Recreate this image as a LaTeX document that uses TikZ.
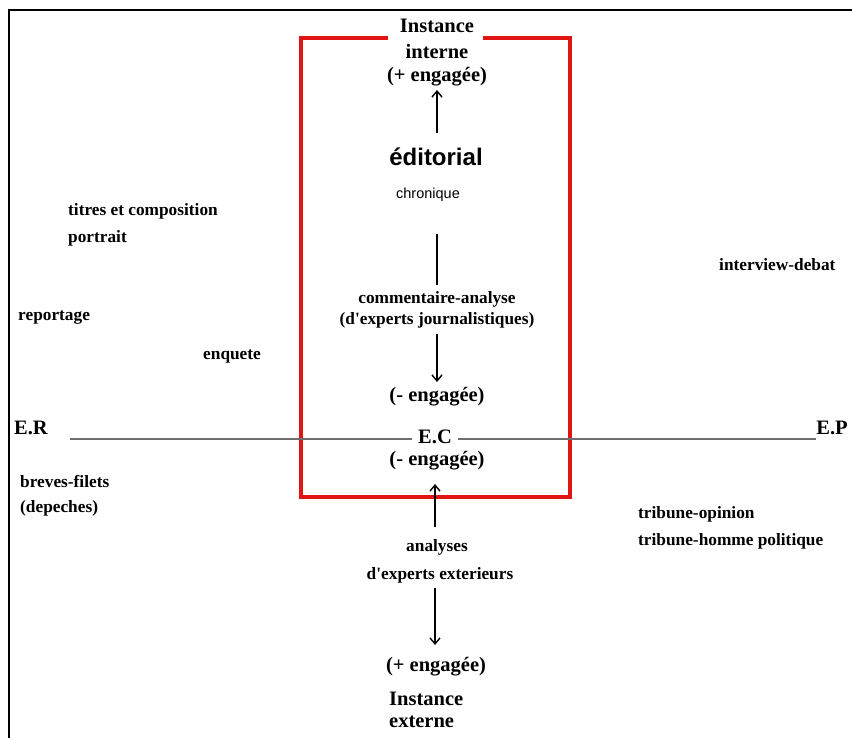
\documentclass[tikz,border=0pt]{standalone}
\usepackage{fontspec}
\setmainfont{Liberation Serif}
\newfontfamily\sansf{Liberation Sans}
\usetikzlibrary{arrows.meta}
\definecolor{boxred}{RGB}{225,20,20}
\definecolor{axisgrey}{RGB}{110,110,110}
\tikzset{
  big/.style={font=\fontsize{20.5}{23}\selectfont\bfseries, inner sep=1pt},
  small/.style={font=\fontsize{17.3}{20}\selectfont\bfseries, inner sep=1pt},
  arr/.style={-{Straight Barb[length=6pt,width=10pt]}, line width=1.4pt},
}
\begin{document}
\begin{tikzpicture}[x=1pt,y=-1pt]
\useasboundingbox (0,0) rectangle (852,738);
\fill[white] (0,0) rectangle (852,738);
% outer frame lines
\draw[line width=1.2pt] (9,738) -- (9,10) -- (852,10);
% red box
\draw[boxred, line width=3.4pt] (388,38) -- (301,38) -- (301,497) -- (570,497) -- (570,38) -- (483,38);
% axis
\node[big] (er) at (31,428) {E.R};
\node[big] (ep) at (832,428) {E.P};
\node[big, fill=white, inner xsep=6pt] (ec) at (435,437) {E.C};
\coordinate (axl) at (70,439);
\coordinate (axr) at (816,439);
\draw[axisgrey, line width=1.1pt] (axl) -- (axl -| ec.west);
\draw[axisgrey, line width=1.1pt] (axr -| ec.east) -- (axr);
% top column
\node[big] (inst1) at (437,26) {Instance};
\node[big] (inst2) at (437,51) {interne};
\node[big] (eng1) at (437,77) {(+ engagée)};
\node[font=\sansf\fontsize{24}{27}\selectfont\bfseries, inner sep=1pt] (edit) at (436,157) {éditorial};
\node[font=\sansf\fontsize{14.5}{16}\selectfont, inner sep=1pt] (chron) at (428,195) {chronique};
\coordinate (l1a) at (437,234);
\coordinate (l1b) at (437,285);
\draw[line width=1.4pt] (l1a) -- (l1b);
\node[small] (comm1) at (437,299) {commentaire-analyse};
\node[small] (comm2) at (437,320) {(d\textquotesingle experts journalistiques)};
\node[big] (eng2) at (437,397) {(- engagée)};
\node[big] (eng3) at (437,461) {(- engagée)};
\coordinate (a1s) at (437,133);
\coordinate (a1e) at (437,90);
\draw[arr] (a1s) -- (a1e);
\coordinate (a2s) at (437,334);
\coordinate (a2e) at (437,382);
\draw[arr] (a2s) -- (a2e);
% bottom column
\node[small] (ana1) at (437,547) {analyses};
\node[small] (ana2) at (440,575) {d\textquotesingle experts exterieurs};
\node[big] (eng4) at (436,667) {(+ engagée)};
\node[big, anchor=west] (inst3) at (388,699) {Instance};
\node[big, anchor=west] (inst4) at (388,722) {externe};
\coordinate (a3s) at (435,527);
\coordinate (a3e) at (435,484);
\draw[arr] (a3s) -- (a3e);
\coordinate (a4s) at (435,588);
\coordinate (a4e) at (435,645);
\draw[arr] (a4s) -- (a4e);
% left labels
\node[small, anchor=west] (titres) at (67,211) {titres et composition};
\node[small, anchor=west] (portrait) at (67,238) {portrait};
\node[small, anchor=west] (report) at (17,318) {reportage};
\node[small, anchor=west] (enq) at (202,356) {enquete};
\node[small, anchor=west] (breves) at (19,481) {breves-filets};
\node[small, anchor=west] (dep) at (19,508) {(depeches)};
% right labels
\node[small, anchor=west] (interv) at (718,265) {interview-debat};
\node[small, anchor=west] (trib1) at (637,514) {tribune-opinion};
\node[small, anchor=west] (trib2) at (637,541) {tribune-homme politique};
\end{tikzpicture}
\end{document}
